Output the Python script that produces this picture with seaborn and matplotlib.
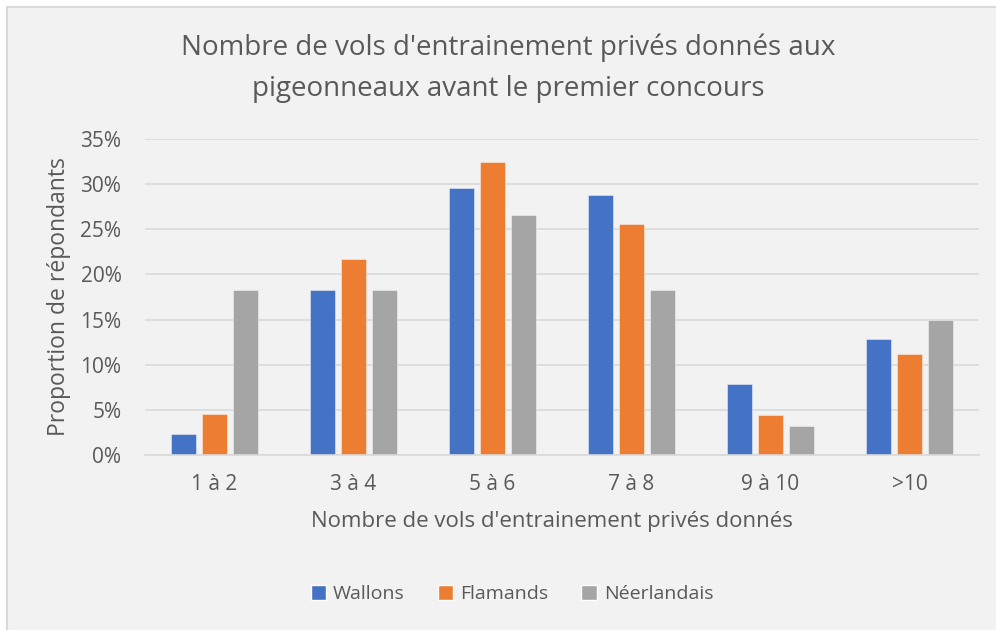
import pandas as pd
import matplotlib.pyplot as plt
import seaborn as sns
from matplotlib.patches import Rectangle
from matplotlib.ticker import PercentFormatter, MultipleLocator

# Data (proportion of respondents, %)
categories = ['1 à 2', '3 à 4', '5 à 6', '7 à 8', '9 à 10', '>10']
groups = ['Wallons', 'Flamands', 'Néerlandais']
wallons = [2.3, 18.3, 29.6, 28.8, 7.9, 12.8]
flamands = [4.5, 21.7, 32.4, 25.6, 4.4, 11.2]
neerlandais = [18.3, 18.3, 26.6, 18.3, 3.2, 15.0]
colors = ['#4472c4', '#ed7d31', '#a5a5a5']

df = pd.DataFrame({
    'categorie': categories * 3,
    'groupe': [g for g in groups for _ in categories],
    'valeur': wallons + flamands + neerlandais,
})

sns.set_style('white')
plt.rcParams['font.family'] = ['Open Sans', 'DejaVu Sans']
text_col = '#595959'
bg = '#f2f2f2'

fig = plt.figure(figsize=(9.96, 6.3), dpi=100, facecolor='white')
# chart area background with border on top/left (image is cropped right/bottom)
fig.patches.append(Rectangle((7 / 996, -0.1), 1.2, (630 - 7) / 630 + 0.1,
                             transform=fig.transFigure, facecolor=bg,
                             edgecolor='#d9d9d9', linewidth=1.5, zorder=-10))

ax = fig.add_axes([145 / 996, (630 - 455) / 630, (979 - 145) / 996, (455 - 139) / 630])
ax.set_facecolor(bg)

sns.barplot(data=df, x='categorie', y='valeur', hue='groupe', order=categories,
            hue_order=groups, palette=colors, width=0.67, gap=0.22,
            edgecolor='#ffffff80', linewidth=0.6, saturation=1, ax=ax, legend=False)

ax.set_ylim(0, 35)
ax.set_xlim(-0.5, len(categories) - 0.5)
ax.yaxis.set_major_locator(MultipleLocator(5))
ax.yaxis.set_major_formatter(PercentFormatter(decimals=0))
ax.grid(axis='y', color='#d9d9d9', linewidth=1.2)
ax.set_axisbelow(True)
for s in ['top', 'right', 'left']:
    ax.spines[s].set_visible(False)
ax.spines['bottom'].set_color('#d9d9d9')
ax.spines['bottom'].set_linewidth(1.2)
ax.tick_params(axis='both', length=0, labelsize=15, colors=text_col)
ax.tick_params(axis='y', pad=17)
ax.tick_params(axis='x', pad=14)

ax.set_xlabel("Nombre de vols d'entrainement privés donnés", fontsize=16, color=text_col)
ax.xaxis.set_label_coords(0.488, -0.178)
ax.set_ylabel('Proportion de répondants', fontsize=16.5, color=text_col, labelpad=7)

fig.text(508 / 996, 1 - 68 / 630,
         "Nombre de vols d'entrainement privés donnés aux\npigeonneaux avant le premier concours",
         ha='center', va='center', fontsize=20, color=text_col, linespacing=1.6)

handles = [Rectangle((0, 0), 1, 1, facecolor=c) for c in colors]
fig.legend(handles, groups, loc='center', bbox_to_anchor=(512 / 996, 1 - 594 / 630),
           ncol=3, frameon=False, fontsize=14, labelcolor=text_col,
           handlelength=0.8, handleheight=0.8, handletextpad=0.35, columnspacing=1.7)

plt.savefig('out.png', dpi=100, facecolor=fig.get_facecolor())
